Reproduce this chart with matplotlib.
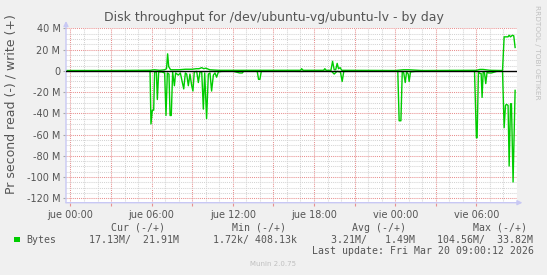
import matplotlib
matplotlib.use('Agg')
import matplotlib.pyplot as plt
from matplotlib.patches import Rectangle

# time in hours since jue 00:00, values in MB/s
read_t = [-0.3, 1.5, 3.0, 4.5, 5.88, 5.95, 6.05, 6.15, 6.22, 6.35, 6.42, 6.52, 6.74, 6.96,
          7.06, 7.16, 7.28, 7.36, 7.45, 7.55, 7.68, 7.77, 7.97, 8.12, 8.37, 8.49, 8.59, 8.71,
          8.83, 8.96, 9.05, 9.15, 9.33, 9.45, 9.57, 9.70, 9.82, 9.92, 10.06, 10.19, 10.31,
          10.43, 10.56, 10.68, 10.80, 10.93, 11.17, 12.0, 12.5, 12.7, 12.8, 13.8, 13.9, 14.0,
          14.1, 15.5, 17.0, 18.5, 19.3, 19.49, 19.7, 19.95, 20.08, 20.2, 22.0, 24.19, 24.29,
          24.42, 24.52, 24.63, 24.74, 24.84, 24.96, 25.03, 25.13, 25.5, 27.0, 28.5, 29.86,
          30.0, 30.05, 30.15, 30.25, 30.35, 30.42, 30.50, 30.60, 30.69, 30.79, 30.89, 31.11,
          31.5, 31.93, 32.05, 32.15, 32.22, 32.34, 32.42, 32.52, 32.59, 32.71, 32.86]
read_v = [0.3, 0.2, 0.3, 0.2, 0.3, 50, 37, 37, 1, 1, 27, 1, 1, 2,
          42, 2, 3, 42, 42, 1, 14, 2, 4, 2, 17, 2, 3, 14,
          3, 14, 19, 1, 0.5, 11, 1, 1, 36, 2, 45, 3, 2,
          19, 4, 2, 6, 1, 0.5, 0.3, 2, 2, 0.3, 0.3, 8, 8,
          0.5, 0.3, 0.5, 0.3, 0.5, 3, 0.5, 1, 10, 0.5, 0.3, 0.3, 47,
          47, 1, 2, 11, 1, 3, 10, 1, 0.5, 0.3, 0.3, 0.3,
          63, 63, 1, 2.5, 2.5, 25, 1, 2, 12, 1, 2, 2,
          0.5, 0.3, 53.5, 32.5, 31.5, 32.5, 89.6, 31, 31, 104.6, 18.4]

write_t = [-0.3, 3.0, 5.88, 6.2, 6.6, 6.96, 7.10, 7.18, 7.26, 7.4, 8.0, 8.5, 9.0, 9.3, 9.5,
           9.70, 9.85, 10.0, 10.3, 11.0, 14.0, 17.0, 17.08, 17.2, 18.7, 18.8, 18.9, 19.25,
           19.37, 19.49, 19.6, 19.71, 19.81, 19.93, 20.05, 24.0, 24.6, 25.0, 26.0, 30.0,
           30.25, 30.5, 31.0, 31.93, 32.05, 32.34, 32.42, 32.52, 32.66, 32.76, 32.86]
write_v = [0.3, 0.3, 0.5, 1, 0.5, 1, 2, 16, 4, 1, 1, 1.5, 1.5, 2, 2,
           3, 2, 2.5, 1, 0.5, 0.5, 0.5, 2, 0.5, 0.5, 2, 0.5, 0.5,
           9, 1, 1, 7, 2, 3, 0.5, 0.3, 1, 1, 0.3, 0.5,
           1.3, 1.3, 0.5, 0.3, 32, 32, 33.5, 32, 33.5, 33, 22]

x_labels = ['jue 00:00', 'jue 06:00', 'jue 12:00', 'jue 18:00', 'vie 00:00', 'vie 06:00']
y_ticks = [40, 20, 0, -20, -40, -60, -80, -100, -120]
y_labels = ['40 M', '20 M', '0', '-20 M', '-40 M', '-60 M', '-80 M', '-100 M', '-120 M']

W, H = 547, 275
def fx(x): return x / W
def fy(y): return 1 - y / H

txt = '#555555'
fig = plt.figure(figsize=(W / 100, H / 100), dpi=100, facecolor='#f0f0f0')
ax = fig.add_axes([fx(66), fy(202.7), fx(517) - fx(66), fy(27.7) - fy(202.7)])
ax.set_facecolor('white')

ax.plot(read_t, [-v for v in read_v], color='#00cc00', lw=1.0, zorder=3)
ax.plot(write_t, write_v, color='#00cc00', lw=1.0, zorder=3)
ax.axhline(0, color='black', lw=1.0, zorder=4)

ax.set_xlim(-0.33, 33.0)
ax.set_ylim(-124.1, 40.6)

ax.set_xticks(range(0, 33, 3))
ax.set_xticks(range(0, 34), minor=True)
ax.set_xticklabels([x_labels[i // 2] if i % 2 == 0 else '' for i in range(11)])
ax.set_yticks(y_ticks)
ax.set_yticks(range(-120, 41, 5), minor=True)
ax.set_yticklabels(y_labels)

ax.grid(which='minor', color='#d4d4d4', lw=0.75, linestyle=(0, (1, 1)), zorder=1)
ax.grid(which='major', color='#e89090', lw=0.75, linestyle=(0, (1, 1)), zorder=2)
ax.set_axisbelow(True)
ax.tick_params(which='both', length=0, colors=txt, labelsize=7, pad=4)
ax.tick_params(axis='y', which='major', length=2, color='#aaaaaa', pad=2)
ax.tick_params(axis='x', which='major', length=2, color='#e89090', pad=3)
for s in ax.spines.values():
    s.set_visible(False)

axc = '#c8c8f4'
ax.annotate('', xy=(0, 1.038), xytext=(0, 0), xycoords='axes fraction',
            arrowprops=dict(arrowstyle='-|>', color=axc, lw=1, mutation_scale=7, shrinkA=0, shrinkB=0))
ax.annotate('', xy=(1.012, 0), xytext=(0, 0), xycoords='axes fraction',
            arrowprops=dict(arrowstyle='-|>', color=axc, lw=1, mutation_scale=7, shrinkA=0, shrinkB=0))

fig.text(fx(274), fy(17), 'Disk throughput for /dev/ubuntu-vg/ubuntu-lv - by day',
         ha='center', va='center', fontsize=9, color=txt)
fig.text(fx(11), fy(104), 'Pr second read (-) / write (+)', rotation=90,
         ha='center', va='center', fontsize=9, color=txt)
fig.text(fx(537), fy(52), 'RRDTOOL / TOBI OETIKER', rotation=-90,
         ha='center', va='center', fontsize=5.3, color='#c0c0c0')

mono = dict(family='DejaVu Sans Mono', fontsize=7.15, color=txt, va='center', ha='left')
fig.text(fx(111), fy(228), 'Cur (-/+)', **mono)
fig.text(fx(231.7), fy(228), 'Min (-/+)', **mono)
fig.text(fx(352.3), fy(228), 'Avg (-/+)', **mono)
fig.text(fx(472.7), fy(228), 'Max (-/+)', **mono)
fig.patches.append(Rectangle((fx(14), fy(242.3)), fx(5.5), fy(236.7) - fy(242.3),
                             transform=fig.transFigure, facecolor='#00cc00', edgecolor='none'))
fig.text(fx(26.7), fy(240), 'Bytes', **mono)
fig.text(fx(89.3), fy(240), '17.13M/  21.91M', **mono)
fig.text(fx(213.3), fy(240), '1.72k/ 408.13k', **mono)
fig.text(fx(331), fy(240), '3.21M/   1.49M', **mono)
fig.text(fx(436.7), fy(240), '104.56M/  33.82M', **mono)
fig.text(fx(311.7), fy(251), 'Last update: Fri Mar 20 09:00:12 2026', **mono)
fig.text(fx(273), fy(264.5), 'Munin 2.0.75', ha='center', va='center', fontsize=5, color='#c0c0c0')

fig.savefig('out.png', dpi=100, facecolor=fig.get_facecolor())
